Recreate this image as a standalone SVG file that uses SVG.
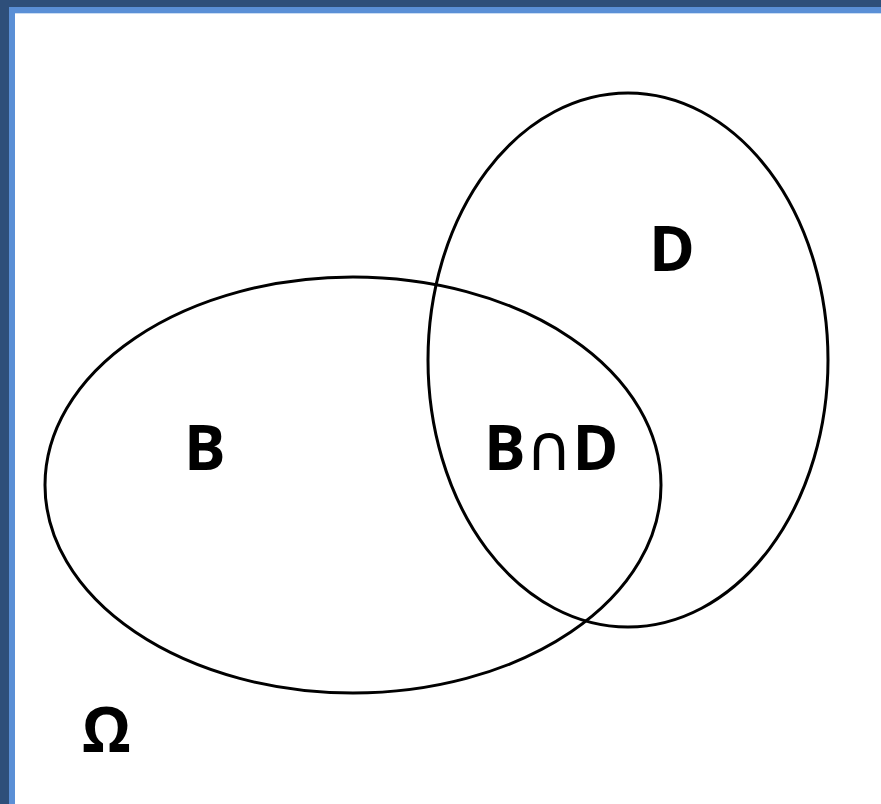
<svg xmlns="http://www.w3.org/2000/svg" width="881" height="804" viewBox="0 0 881 804">
<style>
.set{fill:none;stroke:#000;stroke-width:3}
.lbl{font-family:"Open Sans","Liberation Sans",sans-serif;font-weight:bold;font-size:62px;fill:#000}
.cap{font-family:"DejaVu Sans",sans-serif;font-weight:normal;font-size:64px}
</style>
<rect x="0" y="0" width="881" height="804" fill="#2e4f7a"/>
<rect x="9" y="7" width="872" height="797" fill="#5a8fd6"/>
<rect x="15" y="13" width="866" height="791" fill="#ffffff"/>
<line x1="15" y1="13.5" x2="881" y2="13.5" stroke="#c9dcf3" stroke-width="1"/>
<g id="B">
<ellipse class="set" cx="353" cy="485" rx="308" ry="208"/>
<text class="lbl" x="184" y="470">B</text>
</g>
<g id="D">
<ellipse class="set" cx="628" cy="360" rx="200" ry="267"/>
<text class="lbl" x="649" y="271">D</text>
</g>
<g id="BD">
<text class="lbl" x="484" y="470">B<tspan class="cap">∩</tspan>D</text>
</g>
<g id="Omega">
<text class="lbl" x="82" y="752">Ω</text>
</g>
<g id="connectors"/>
</svg>
